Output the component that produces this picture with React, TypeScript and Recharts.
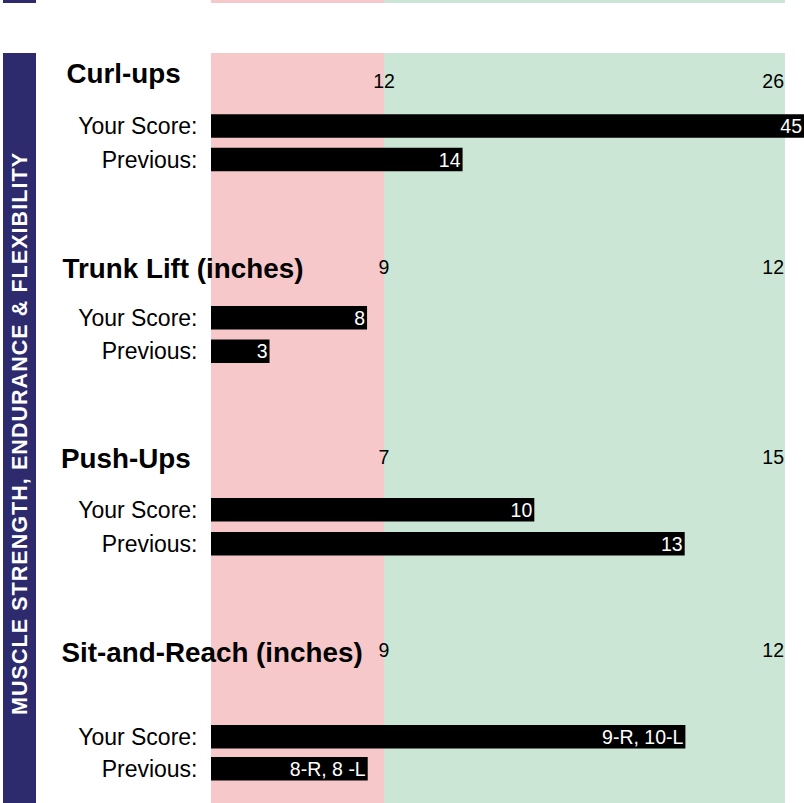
import React from 'react';
import { BarChart, Bar, XAxis, YAxis, ReferenceArea, ReferenceLine, LabelList } from 'recharts';

// ---------- data ----------
const sectionTitles = ['Curl-ups', 'Trunk Lift (inches)', 'Push-Ups', 'Sit-and-Reach (inches)'];
const rowLabels = ['Your Score:', 'Previous:'];
const healthyLow = [12, 9, 7, 9];
const healthyHigh = [26, 12, 15, 12];
const yourScore = [45, 8, 10, 9.5];
const previousScore = [14, 3, 13, 8];
const yourScoreText = ['45', '8', '10', '9-R, 10-L'];
const previousText = ['14', '3', '13', '8-R, 8 -L'];
const barAxisDomains: [number, number][] = [
  [0, 33],
  [0, 30.4],
  [3.55, 15.38],
  [7.26, 10.06],
];
const sideTitle = 'MUSCLE STRENGTH, ENDURANCE & FLEXIBILITY';

// ---------- layout / style ----------
const W = 804;
const H = 803;
const PLOT_LEFT = 211;
const ZONE_LOW_X = 384;
const ZONE_HIGH_X = 785;
const FONT = '"Liberation Sans", Arial, Helvetica, sans-serif';
const PINK = '#f7c8c9';
const GREEN = '#cbe6d5';
const NAVY = '#2d2a6e';

const sectionLayout = [
  { top: 53, height: 186, padTop: 56.25, padBottom: 62.75, titleX: 66.5, titleY: 30.3 },
  { top: 239, height: 190, padTop: 61.9, padBottom: 60.9, titleX: 62.5, titleY: 39.3 },
  { top: 429, height: 193, padTop: 64, padBottom: 61, titleX: 61, titleY: 38.7 },
  { top: 622, height: 181, padTop: 98.9, padBottom: 17.7, titleX: 61.5, titleY: 39.7 },
];

function zoneDomain(low: number, high: number): [number, number] {
  const plotW = W - PLOT_LEFT;
  const fLow = (ZONE_LOW_X - PLOT_LEFT) / plotW;
  const fHigh = (ZONE_HIGH_X - PLOT_LEFT) / plotW;
  const span = (high - low) / (fHigh - fLow);
  const z0 = low - fLow * span;
  return [z0, z0 + span];
}

const ThresholdText = (anchor: 'middle' | 'end', text: string) => (props: any) => {
  const vb = props.viewBox || {};
  const x = anchor === 'end' ? vb.x - 1 : vb.x;
  return (
    <text x={x} y={(vb.y || 0) + 35.3} textAnchor={anchor} fontSize={19.5} fontFamily={FONT} fill="#000">
      {text}
    </text>
  );
};

const BarText = (props: any) => {
  const vb = props.viewBox && props.viewBox.width !== undefined ? props.viewBox : props;
  const { x, y, width, height } = vb;
  const right = Math.min(x + width, W) - 2;
  return (
    <text x={right} y={y + height / 2} dy="0.36em" textAnchor="end" fontSize={19.5} fontFamily={FONT} fill="#fff">
      {props.value}
    </text>
  );
};

function Section({ i }: { i: number }) {
  const L = sectionLayout[i];
  const low = healthyLow[i];
  const high = healthyHigh[i];
  const data = [
    { row: rowLabels[0], value: yourScore[i], text: yourScoreText[i] },
    { row: rowLabels[1], value: previousScore[i], text: previousText[i] },
  ];
  return (
    <div style={{ position: 'absolute', left: 0, top: L.top, width: W, height: L.height }}>
      <BarChart
        layout="vertical"
        width={W}
        height={L.height}
        data={data}
        margin={{ top: 0, right: 0, bottom: 0, left: 0 }}
        barSize={23.5}
      >
        <XAxis xAxisId="zone" type="number" domain={zoneDomain(low, high)} hide allowDataOverflow />
        <XAxis xAxisId="bar" type="number" domain={barAxisDomains[i]} hide allowDataOverflow />
        <YAxis yAxisId="zoneY" type="number" domain={[0, 1]} hide allowDataOverflow />
        <YAxis
          type="category"
          dataKey="row"
          width={PLOT_LEFT}
          tickLine={false}
          axisLine={false}
          tickSize={0}
          tickMargin={13.5}
          interval={0}
          padding={{ top: L.padTop, bottom: L.padBottom }}
          tick={{ fontSize: 23, fill: '#000', fontFamily: FONT }}
        />
        <ReferenceArea xAxisId="zone" yAxisId="zoneY" x2={low} fill={PINK} fillOpacity={1} stroke="none" />
        <ReferenceArea xAxisId="zone" yAxisId="zoneY" x1={low} x2={high} fill={GREEN} fillOpacity={1} stroke="none" />
        <ReferenceLine
          xAxisId="zone"
          yAxisId="zoneY"
          x={low}
          stroke="none"
          strokeOpacity={0}
          label={{ content: ThresholdText('middle', String(low)) }}
        />
        <ReferenceLine
          xAxisId="zone"
          yAxisId="zoneY"
          x={high}
          stroke="none"
          strokeOpacity={0}
          label={{ content: ThresholdText('end', String(high)) }}
        />
        <Bar xAxisId="bar" dataKey="value" fill="#000" isAnimationActive={false}>
          <LabelList dataKey="text" content={BarText} />
        </Bar>
      </BarChart>
      <svg
        width={W}
        height={L.height}
        style={{ position: 'absolute', left: 0, top: 0, pointerEvents: 'none' }}
      >
        <text x={L.titleX} y={L.titleY} fontSize={27.8} fontWeight="bold" fontFamily={FONT} fill="#000">
          {sectionTitles[i]}
        </text>
      </svg>
    </div>
  );
}

function ZoneStrip() {
  const low = healthyLow[0];
  const high = healthyHigh[0];
  return (
    <div style={{ position: 'absolute', left: 0, top: 0, width: W, height: 3 }}>
      <BarChart
        layout="vertical"
        width={W}
        height={3}
        data={[{ row: '' }]}
        margin={{ top: 0, right: 0, bottom: 0, left: PLOT_LEFT }}
      >
        <XAxis xAxisId="zone" type="number" domain={zoneDomain(low, high)} hide allowDataOverflow />
        <YAxis yAxisId="zoneY" type="number" domain={[0, 1]} hide allowDataOverflow />
        <YAxis type="category" dataKey="row" hide />
        <ReferenceArea xAxisId="zone" yAxisId="zoneY" x2={low} fill={PINK} fillOpacity={1} stroke="none" />
        <ReferenceArea xAxisId="zone" yAxisId="zoneY" x1={low} x2={high} fill={GREEN} fillOpacity={1} stroke="none" />
      </BarChart>
    </div>
  );
}

export default function App() {
  return (
    <div style={{ position: 'absolute', left: 0, top: 0, width: W, height: H, background: '#fff', overflow: 'hidden' }}>
      <ZoneStrip />
      {sectionTitles.map((_, i) => (
        <Section key={i} i={i} />
      ))}
      <svg width={40} height={H} style={{ position: 'absolute', left: 0, top: 0 }}>
        <rect x={3} y={0} width={33} height={3} fill={NAVY} />
        <rect x={3} y={53} width={33} height={H - 53} fill={NAVY} />
        <text
          transform="translate(26.5,434) rotate(-90)"
          x={0}
          y={0}
          textAnchor="middle"
          fontSize={21.5}
          fontWeight="bold"
          fontFamily={FONT}
          fill="#fff"
          textLength={562}
          lengthAdjust="spacing"
        >
          {sideTitle}
        </text>
      </svg>
    </div>
  );
}
